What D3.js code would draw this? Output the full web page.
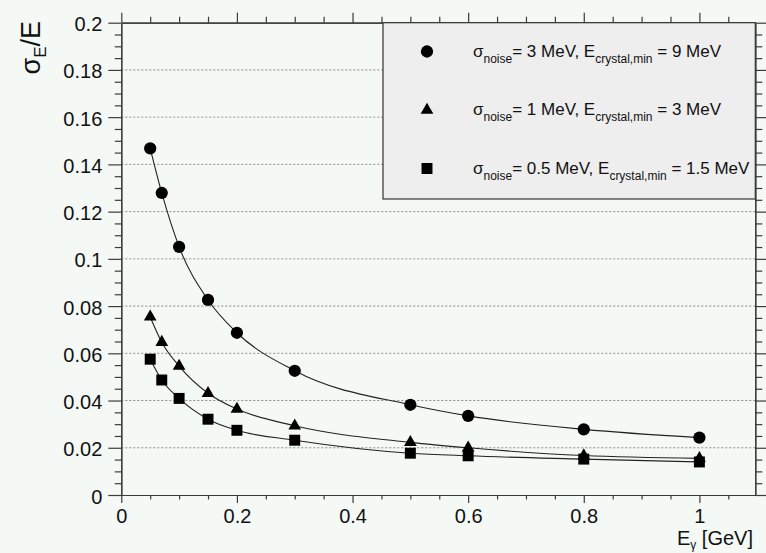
<!DOCTYPE html>
<html>
<head>
<meta charset="utf-8">
<script src="https://cdn.jsdelivr.net/npm/d3@7"></script>
<style>
  html, body { margin: 0; padding: 0; background: #f5f9f6; }
  svg { display: block; font-family: "Liberation Sans", Arial, Helvetica, sans-serif; }
</style>
</head>
<body>
<svg id="chart" width="766" height="553"></svg>
<script>
// Photon energy points (GeV)
const energies = [0.05, 0.07, 0.1, 0.15, 0.2, 0.3, 0.5, 0.6, 0.8, 1.0];

// Relative energy resolution for three noise / threshold settings
const resCircle   = [0.1468, 0.1279, 0.1051, 0.0826, 0.0687, 0.0526, 0.0382, 0.0335, 0.0278, 0.0243];
const resTriangle = [0.0754, 0.0647, 0.0546, 0.0431, 0.0364, 0.0293, 0.0223, 0.0200, 0.0167, 0.0155];
const resSquare   = [0.0575, 0.0487, 0.0409, 0.0321, 0.0274, 0.0232, 0.0177, 0.0166, 0.0152, 0.0140];

// Axis tick values
const xMajorTicks = [0, 0.2, 0.4, 0.6, 0.8, 1];
const xTickLabels = ["0", "0.2", "0.4", "0.6", "0.8", "1"];
const yMajorTicks = [0, 0.02, 0.04, 0.06, 0.08, 0.1, 0.12, 0.14, 0.16, 0.18, 0.2];
const yTickLabels = ["0", "0.02", "0.04", "0.06", "0.08", "0.1", "0.12", "0.14", "0.16", "0.18", "0.2"];

// Legend entries: [text, subscript] segments
const legendLabels = [
  [["σ", ""], ["noise", "sub"], ["= 3 MeV, E", ""], ["crystal,min", "sub"], [" = 9 MeV", ""]],
  [["σ", ""], ["noise", "sub"], ["= 1 MeV, E", ""], ["crystal,min", "sub"], [" = 3 MeV", ""]],
  [["σ", ""], ["noise", "sub"], ["= 0.5 MeV, E", ""], ["crystal,min", "sub"], [" = 1.5 MeV", ""]]
];
const legendSymbols = ["circle", "triangle", "square"];

const series = [
  { values: resCircle,   symbol: "circle" },
  { values: resTriangle, symbol: "triangle" },
  { values: resSquare,   symbol: "square" }
];

const svg = d3.select("#chart");
const frameL = 121.3, frameR = 755.3, frameT = 22.7, frameB = 495;
const xMax = 1.0967;

const x = d3.scaleLinear().domain([0, xMax]).range([frameL, frameR]);
const y = d3.scaleLinear().domain([0, 0.2]).range([frameB, frameT]);

const xMinor = d3.range(0, xMax, 0.05).filter(v => xMajorTicks.every(m => Math.abs(m - v) > 1e-6));
const yMinor = d3.range(0, 0.2, 0.005).filter(v => yMajorTicks.every(m => Math.abs(m - v) > 1e-6));

const axisColor = "#3a3a3a";

// Horizontal dotted grid
svg.append("g").selectAll("line")
  .data(yMajorTicks.filter(v => v > 0 && v < 0.2))
  .join("line")
  .attr("x1", frameL).attr("x2", frameR)
  .attr("y1", d => y(d)).attr("y2", d => y(d))
  .attr("stroke", "#8a8a8a")
  .attr("stroke-width", 1)
  .attr("stroke-dasharray", "2,2");

function styleAxis(g) {
  g.selectAll("path.domain").attr("stroke", axisColor).attr("stroke-width", 1.2);
  g.selectAll(".tick line").attr("stroke", axisColor).attr("stroke-width", 1.2);
}

// Bottom axis: major ticks with labels, then minor ticks
const gxB = svg.append("g").attr("transform", `translate(0,${frameB})`)
  .call(d3.axisBottom(x).tickValues(xMajorTicks).tickSize(8).tickSizeOuter(0)
    .tickFormat((d, i) => xTickLabels[i]));
gxB.selectAll("text").attr("font-size", 20).attr("fill", "#111").attr("dy", "0.55em").attr("y", 17);
styleAxis(gxB);
const gxBm = svg.append("g").attr("transform", `translate(0,${frameB})`)
  .call(d3.axisBottom(x).tickValues(xMinor).tickSize(4.5).tickSizeOuter(0).tickFormat(""));
styleAxis(gxBm);

// Top axis (ticks only)
const gxT = svg.append("g").attr("transform", `translate(0,${frameT})`)
  .call(d3.axisTop(x).tickValues(xMajorTicks).tickSize(10).tickSizeOuter(0).tickFormat(""));
styleAxis(gxT);
const gxTm = svg.append("g").attr("transform", `translate(0,${frameT})`)
  .call(d3.axisTop(x).tickValues(xMinor).tickSize(6).tickSizeOuter(0).tickFormat(""));
styleAxis(gxTm);

// Left axis with labels
const gyL = svg.append("g").attr("transform", `translate(${frameL},0)`)
  .call(d3.axisLeft(y).tickValues(yMajorTicks).tickSize(13).tickSizeOuter(0)
    .tickFormat((d, i) => yTickLabels[i]));
gyL.selectAll("text").attr("font-size", 20).attr("fill", "#111").attr("x", -19).attr("dy", "0.4em");
styleAxis(gyL);
const gyLm = svg.append("g").attr("transform", `translate(${frameL},0)`)
  .call(d3.axisLeft(y).tickValues(yMinor).tickSize(6.5).tickSizeOuter(0).tickFormat(""));
styleAxis(gyLm);

// Curves through each series
const line = d3.line()
  .x((d, i) => x(energies[i]))
  .y(d => y(d))
  .curve(d3.curveMonotoneX);

svg.append("g").selectAll("path")
  .data(series)
  .join("path")
  .attr("d", d => line(d.values))
  .attr("fill", "none")
  .attr("stroke", "#222")
  .attr("stroke-width", 1.1);

// Marker shapes
const symbolPath = {
  circle: d3.symbol(d3.symbolCircle, 118)(),
  triangle: d3.symbol(d3.symbolTriangle, 70)(),
  square: d3.symbol(d3.symbolSquare, 120)()
};

series.forEach(s => {
  svg.append("g").selectAll("path")
    .data(s.values)
    .join("path")
    .attr("d", symbolPath[s.symbol])
    .attr("transform", (d, i) => `translate(${x(energies[i])},${y(d)})`)
    .attr("fill", "#000");
});

// Legend box
const legend = svg.append("g");
legend.append("rect")
  .attr("x", 383).attr("y", frameT)
  .attr("width", frameR - 383).attr("height", 199 - frameT)
  .attr("fill", "#eeeeee")
  .attr("stroke", "#333")
  .attr("stroke-width", 1.2);

const legendY = [51.5, 110, 168.5];
legendLabels.forEach((segs, i) => {
  legend.append("path")
    .attr("d", symbolPath[legendSymbols[i]])
    .attr("transform", `translate(427,${legendY[i]})`)
    .attr("fill", "#000");
  const t = legend.append("text")
    .attr("x", 473).attr("y", legendY[i] + 5)
    .attr("font-size", 17).attr("fill", "#111");
  segs.forEach(([txt, kind], j) => {
    const ts = t.append("tspan").text(txt);
    if (kind === "sub") {
      ts.attr("font-size", 12).attr("dy", 6);
    } else if (j > 0) {
      ts.attr("dy", -6);
    }
  });
});

// Right axis ticks, drawn over the legend box
const gyR = svg.append("g").attr("transform", `translate(${frameR},0)`)
  .call(d3.axisRight(y).tickValues(yMajorTicks).tickSize(12).tickSizeOuter(0).tickFormat(""));
styleAxis(gyR);
const gyRm = svg.append("g").attr("transform", `translate(${frameR},0)`)
  .call(d3.axisRight(y).tickValues(yMinor).tickSize(7).tickSizeOuter(0).tickFormat(""));
styleAxis(gyRm);

// Axis titles
const yTitle = svg.append("text")
  .attr("transform", "translate(40,21) rotate(-90)")
  .attr("text-anchor", "end")
  .attr("font-size", 27).attr("fill", "#111");
yTitle.append("tspan").text("σ");
yTitle.append("tspan").text("E").attr("font-size", 17).attr("dy", 6);
yTitle.append("tspan").text("/E").attr("dy", -6);

const xTitle = svg.append("text")
  .attr("x", 753).attr("y", 545)
  .attr("text-anchor", "end")
  .attr("font-size", 20).attr("fill", "#111");
xTitle.append("tspan").text("E");
xTitle.append("tspan").text("γ").attr("font-size", 12).attr("dy", 4);
xTitle.append("tspan").text(" [GeV]").attr("dy", -4);
</script>
</body>
</html>
